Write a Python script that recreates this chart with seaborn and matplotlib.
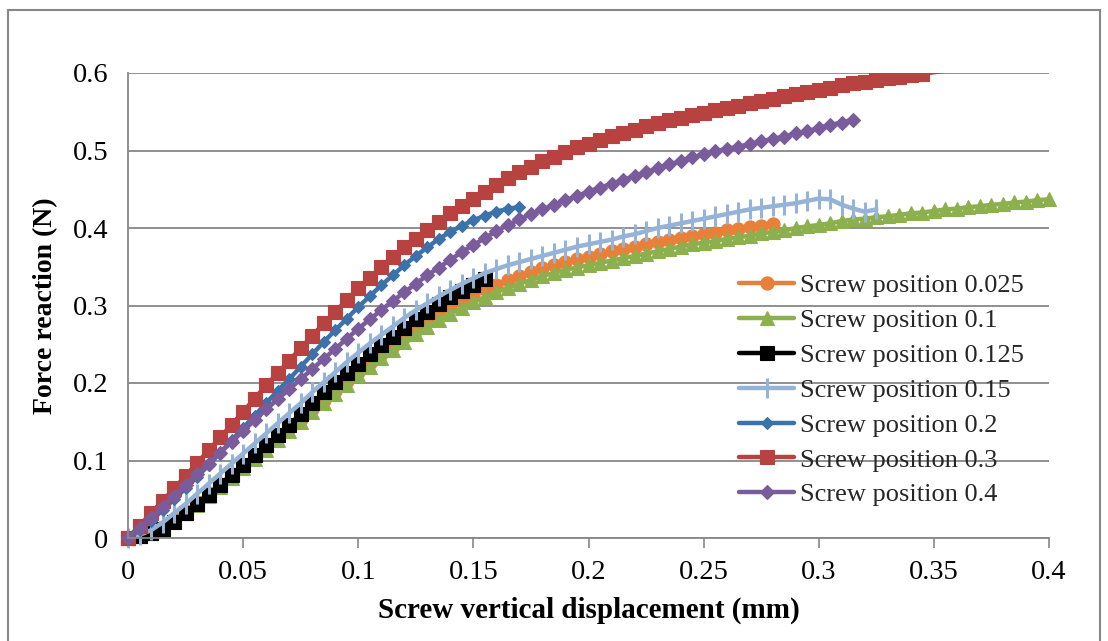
import matplotlib
matplotlib.use("Agg")
import matplotlib.pyplot as plt
import seaborn as sns
from matplotlib.patches import Rectangle

# Screw vertical displacement (mm), sampled every 0.005 mm
displacement = [
    0.000, 0.005, 0.010, 0.015, 0.020, 0.025, 0.030, 0.035, 0.040, 0.045,
    0.050, 0.055, 0.060, 0.065, 0.070, 0.075, 0.080, 0.085, 0.090, 0.095,
    0.100, 0.105, 0.110, 0.115, 0.120, 0.125, 0.130, 0.135, 0.140, 0.145,
    0.150, 0.155, 0.160, 0.165, 0.170, 0.175, 0.180, 0.185, 0.190, 0.195,
    0.200, 0.205, 0.210, 0.215, 0.220, 0.225, 0.230, 0.235, 0.240, 0.245,
    0.250, 0.255, 0.260, 0.265, 0.270, 0.275, 0.280, 0.285, 0.290, 0.295,
    0.300, 0.305, 0.310, 0.315, 0.320, 0.325, 0.330, 0.335, 0.340, 0.345,
    0.350, 0.355, 0.360, 0.365, 0.370, 0.375, 0.380, 0.385, 0.390, 0.395,
    0.400,
]

# Force reaction (N) for each screw position
force_0025 = [
    0.000, 0.002, 0.006, 0.014, 0.024, 0.035, 0.046, 0.058, 0.070, 0.082,
    0.094, 0.106, 0.118, 0.130, 0.142, 0.154, 0.166, 0.178, 0.190, 0.202,
    0.214, 0.226, 0.237, 0.248, 0.259, 0.269, 0.279, 0.289, 0.298, 0.306,
    0.314, 0.321, 0.327, 0.333, 0.338, 0.343, 0.348, 0.352, 0.356, 0.360,
    0.363, 0.367, 0.370, 0.373, 0.376, 0.379, 0.382, 0.385, 0.387, 0.390,
    0.392, 0.394, 0.397, 0.399, 0.401, 0.403, 0.405,
]
force_01 = [
    0.000, 0.002, 0.006, 0.013, 0.022, 0.032, 0.043, 0.054, 0.066, 0.078,
    0.090, 0.102, 0.114, 0.126, 0.138, 0.150, 0.162, 0.174, 0.186, 0.198,
    0.210, 0.221, 0.232, 0.243, 0.253, 0.263, 0.272, 0.281, 0.289, 0.297,
    0.304, 0.311, 0.317, 0.323, 0.328, 0.333, 0.338, 0.342, 0.346, 0.349,
    0.352, 0.355, 0.358, 0.361, 0.364, 0.367, 0.370, 0.373, 0.376, 0.379,
    0.381, 0.383, 0.386, 0.388, 0.390, 0.393, 0.395, 0.397, 0.400, 0.402,
    0.404, 0.406, 0.409, 0.411, 0.412, 0.414, 0.415, 0.417, 0.419, 0.420,
    0.422, 0.424, 0.425, 0.427, 0.428, 0.430, 0.431, 0.433, 0.434, 0.436,
    0.437,
]
force_0125 = [
    0.000, 0.002, 0.006, 0.012, 0.021, 0.032, 0.044, 0.056, 0.068, 0.081,
    0.094, 0.107, 0.120, 0.133, 0.146, 0.160, 0.174, 0.188, 0.201, 0.213,
    0.225, 0.237, 0.249, 0.260, 0.271, 0.282, 0.292, 0.302, 0.311, 0.319,
    0.327, 0.334,
]
force_015 = [
    0.000, 0.004, 0.010, 0.020, 0.032, 0.044, 0.057, 0.070, 0.083, 0.096,
    0.109, 0.122, 0.135, 0.148, 0.161, 0.174, 0.188, 0.201, 0.214, 0.227,
    0.239, 0.251, 0.262, 0.273, 0.284, 0.294, 0.303, 0.312, 0.320, 0.328,
    0.335, 0.342, 0.347, 0.352, 0.356, 0.360, 0.364, 0.368, 0.372, 0.376,
    0.379, 0.382, 0.385, 0.389, 0.392, 0.396, 0.400, 0.403, 0.406, 0.409,
    0.412, 0.415, 0.418, 0.421, 0.424, 0.426, 0.428, 0.430, 0.432, 0.435,
    0.438, 0.437, 0.430, 0.425, 0.421, 0.424,
]
force_02 = [
    0.000, 0.010, 0.022, 0.036, 0.050, 0.064, 0.079, 0.094, 0.110, 0.126,
    0.142, 0.158, 0.174, 0.190, 0.205, 0.221, 0.237, 0.253, 0.268, 0.283,
    0.298, 0.312, 0.326, 0.339, 0.352, 0.364, 0.375, 0.386, 0.395, 0.403,
    0.410, 0.416, 0.421, 0.425, 0.427,
]
force_03 = [
    0.000, 0.016, 0.032, 0.048, 0.064, 0.080, 0.097, 0.113, 0.130, 0.146,
    0.163, 0.180, 0.197, 0.213, 0.229, 0.245, 0.261, 0.277, 0.292, 0.307,
    0.322, 0.336, 0.350, 0.363, 0.375, 0.386, 0.397, 0.408, 0.419, 0.429,
    0.438, 0.447, 0.456, 0.464, 0.472, 0.479, 0.486, 0.492, 0.498, 0.504,
    0.509, 0.514, 0.519, 0.523, 0.527, 0.531, 0.535, 0.539, 0.542, 0.546,
    0.549, 0.552, 0.555, 0.558, 0.561, 0.564, 0.567, 0.570, 0.573, 0.576,
    0.578, 0.581, 0.584, 0.587, 0.589, 0.591, 0.593, 0.595, 0.597, 0.599,
    0.601, 0.603,
]
force_04 = [
    0.000, 0.013, 0.026, 0.040, 0.054, 0.068, 0.082, 0.096, 0.110, 0.124,
    0.138, 0.152, 0.166, 0.179, 0.192, 0.205, 0.218, 0.231, 0.244, 0.257,
    0.270, 0.282, 0.294, 0.306, 0.317, 0.328, 0.339, 0.349, 0.359, 0.369,
    0.378, 0.387, 0.396, 0.404, 0.411, 0.418, 0.424, 0.430, 0.436, 0.441,
    0.447, 0.452, 0.457, 0.462, 0.467, 0.472, 0.477, 0.482, 0.486, 0.491,
    0.495, 0.499, 0.502, 0.505, 0.508, 0.512, 0.515, 0.518, 0.522, 0.525,
    0.529, 0.533, 0.536, 0.540,
]

series_labels = [
    "Screw position 0.025", "Screw position 0.1", "Screw position 0.125",
    "Screw position 0.15", "Screw position 0.2", "Screw position 0.3",
    "Screw position 0.4",
]
series_values = [force_0025, force_01, force_0125, force_015, force_02, force_03, force_04]

x_ticks = [0, 0.05, 0.1, 0.15, 0.2, 0.25, 0.3, 0.35, 0.4]
x_tick_labels = ["0", "0.05", "0.1", "0.15", "0.2", "0.25", "0.3", "0.35", "0.4"]
y_ticks = [0, 0.1, 0.2, 0.3, 0.4, 0.5, 0.6]
y_tick_labels = ["0", "0.1", "0.2", "0.3", "0.4", "0.5", "0.6"]

# marker style per series
styles = [
    dict(color="#E8803A", marker="o", markersize=9.5),
    dict(color="#8DB04F", marker="^", markersize=10),
    dict(color="#000000", marker="s", markersize=9.5),
    dict(color="#95B3D7", marker="|", markersize=14, markeredgewidth=2.2),
    dict(color="#3C72AA", marker="D", markersize=6.5),
    dict(color="#B8423F", marker="s", markersize=10),
    dict(color="#7A5C9C", marker="D", markersize=7.5),
]

sns.set_theme(style="white")
plt.rcParams["font.family"] = ["Liberation Serif", "DejaVu Serif"]

fig = plt.figure(figsize=(11.08, 6.41), dpi=100)
ax = fig.add_axes([128 / 1108, 1 - 538 / 641, (1049 - 128) / 1108, (538 - 73) / 641])

grid_color = "#878787"
top_limit = 0.6
for label, ys, st in zip(series_labels, series_values, styles):
    xs = displacement[: len(ys)]
    kw = dict(st)
    kw.setdefault("markeredgewidth", 0.8)
    marks = [i for i, v in enumerate(ys) if v <= top_limit]
    sns.lineplot(
        x=xs, y=ys, ax=ax, label=label, linewidth=3.2,
        markeredgecolor=st["color"], markevery=marks, sort=False,
        estimator=None, **kw,
    )

# keep markers at the origin whole, but clip anything above the top of the axis
clip_rect = Rectangle((-0.05, -0.05), 1.1, 1.05, transform=ax.transAxes,
                      facecolor="none", edgecolor="none")
ax.add_patch(clip_rect)
for line in ax.lines:
    line.set_clip_path(clip_rect)

ax.set_xlim(0, 0.4)
ax.set_ylim(0, 0.6)
ax.set_xticks(x_ticks)
ax.set_xticklabels(x_tick_labels)
ax.set_yticks(y_ticks)
ax.set_yticklabels(y_tick_labels)
ax.tick_params(axis="x", direction="out", length=7, width=1.2, color=grid_color,
               pad=9, labelsize=20.5, labelcolor="black", bottom=True)
ax.tick_params(axis="y", length=0, pad=14, labelsize=20.5, labelcolor="black")

ax.grid(axis="y", color=grid_color, linewidth=1.3)
ax.grid(axis="x", visible=False)
ax.set_axisbelow(True)
for side in ("top", "right"):
    ax.spines[side].set_visible(False)
for side in ("left", "bottom"):
    ax.spines[side].set_color(grid_color)
    ax.spines[side].set_linewidth(1.3)

ax.set_xlabel("Screw vertical displacement (mm)", fontsize=21, fontweight="bold",
              labelpad=8.5, color="black")
ax.set_ylabel("Force reaction (N)", fontsize=20, fontweight="bold",
              labelpad=11, color="black")

leg = ax.legend(
    loc="upper left", bbox_to_anchor=(739 / 1108, 1 - 274 / 641),
    bbox_transform=fig.transFigure, frameon=False, fontsize=19,
    handlelength=2.1, handletextpad=0.2, labelspacing=0.43,
    borderpad=0, borderaxespad=0, numpoints=1,
)

# outer chart frame
fig.patches.append(Rectangle((8 / 1108, -0.05), (1100 - 8) / 1108, 1.05 - 10 / 641,
                             transform=fig.transFigure, fill=False,
                             edgecolor=grid_color, linewidth=1.5))

fig.savefig("out.png", dpi=100)
